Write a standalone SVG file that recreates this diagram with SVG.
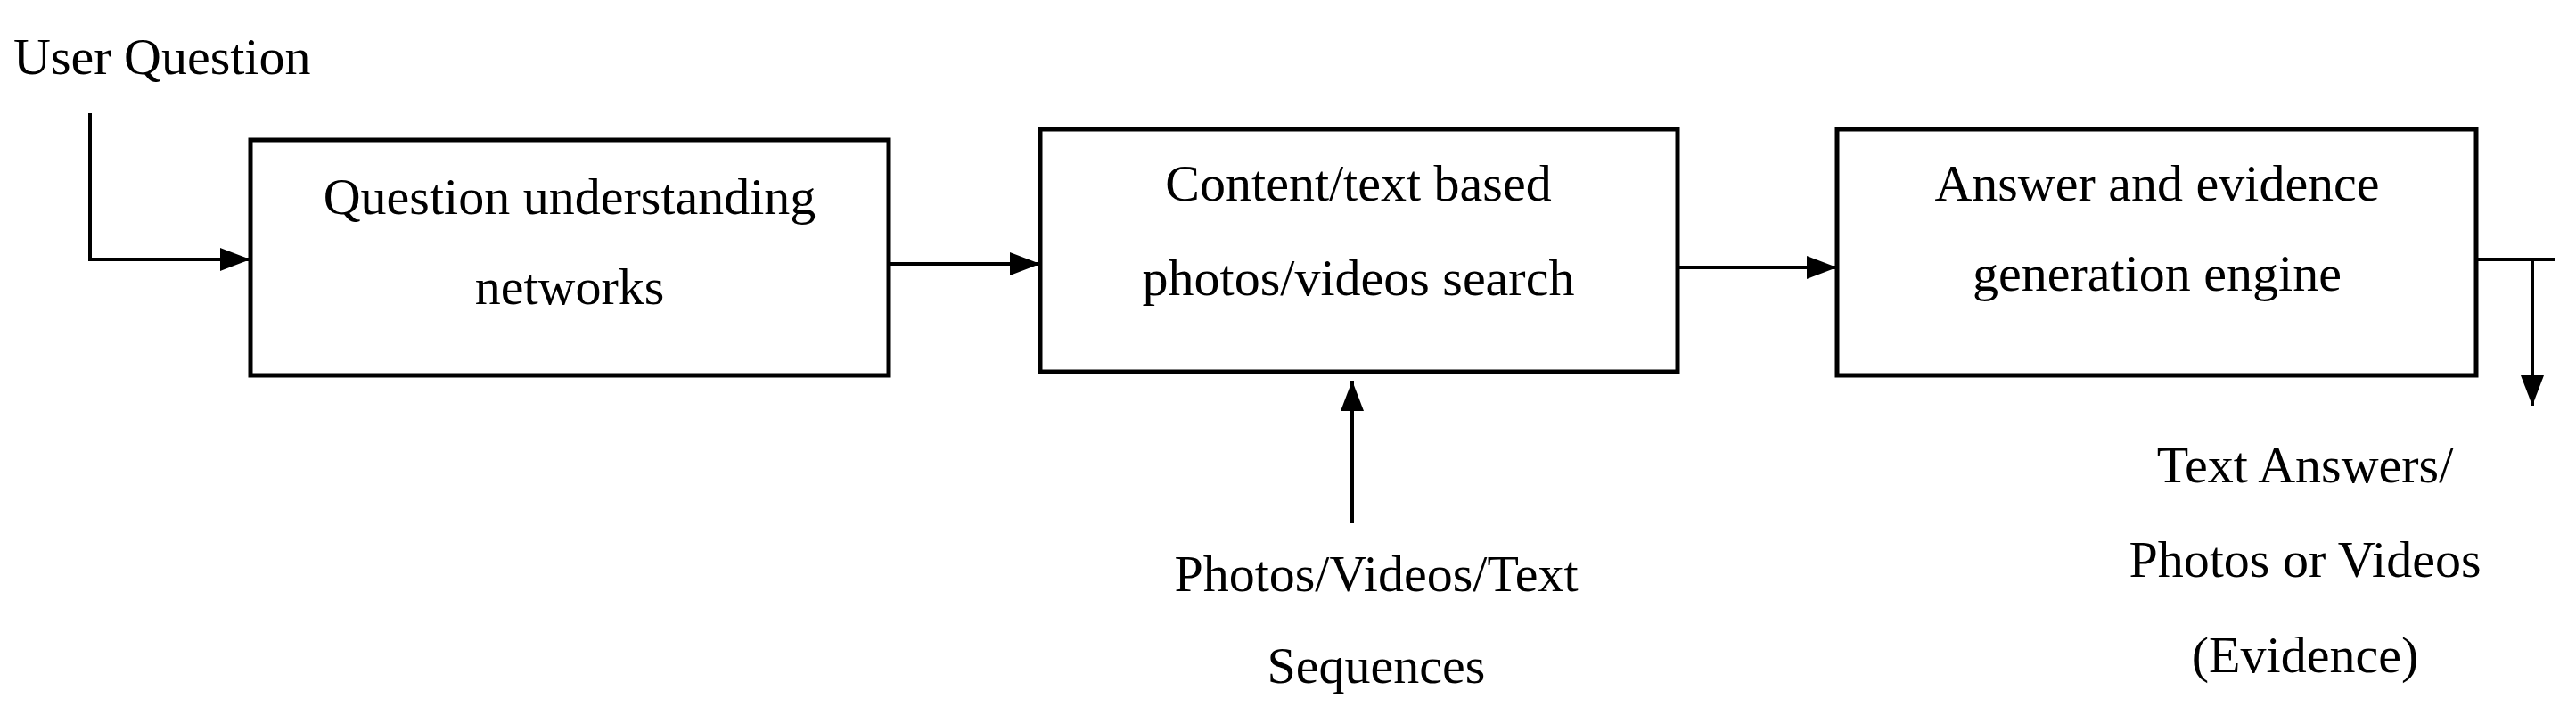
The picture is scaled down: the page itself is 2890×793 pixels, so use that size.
<svg xmlns="http://www.w3.org/2000/svg" width="2890" height="793" viewBox="0 0 2890 793">
<style>
text{font-family:"Liberation Serif","Times New Roman",serif;font-size:58px;fill:#000;text-anchor:middle}
.box{fill:#fff;stroke:#000;stroke-width:5}
.ln{stroke:#000;stroke-width:4;fill:none}
</style>
<defs><marker id="a" viewBox="0 0 10 10" refX="10" refY="5" markerWidth="34" markerHeight="26" markerUnits="userSpaceOnUse" orient="auto" preserveAspectRatio="none"><path d="M0,0L10,5L0,10z" fill="#000"/></marker></defs>
<rect width="2890" height="793" fill="#fff"/>
<text x="15" y="83" style="text-anchor:start">User Question</text>
<g id="n1"><rect class="box" x="281" y="157" width="716" height="264"/><text x="639" y="240">Question understanding</text><text x="639" y="341">networks</text></g>
<g id="n2"><rect class="box" x="1167" y="145" width="715" height="272"/><text x="1524" y="225">Content/text based</text><text x="1524" y="331">photos/videos search</text></g>
<g id="n3"><rect class="box" x="2061" y="145" width="717" height="276"/><text x="2420" y="225">Answer and evidence</text><text x="2420" y="326">generation engine</text></g>
<text x="1544" y="663">Photos/Videos/Text</text><text x="1544" y="766">Sequences</text>
<text x="2586" y="541">Text Answers/</text><text x="2586" y="647">Photos or Videos</text><text x="2586" y="754">(Evidence)</text>
<g id="connectors">
<path class="ln" d="M101,127V291H281" marker-end="url(#a)"/>
<path class="ln" d="M997,296H1167" marker-end="url(#a)"/>
<path class="ln" d="M1882,300H2061" marker-end="url(#a)"/>
<path class="ln" d="M1517,587V427" marker-end="url(#a)"/>
<path class="ln" d="M2778,291H2867"/>
<path class="ln" d="M2841,291V455" marker-end="url(#a)"/>
</g>
</svg>
